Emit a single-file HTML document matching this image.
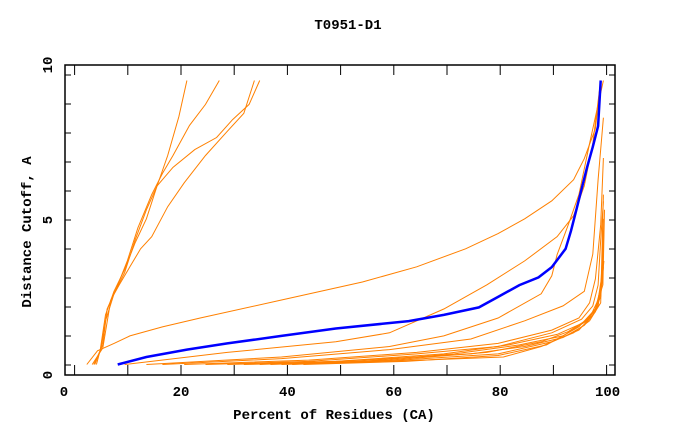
<!DOCTYPE html>
<html><head><meta charset="utf-8"><style>
body{margin:0;background:#fff;}
svg text{font-family:"Liberation Mono","DejaVu Sans Mono",monospace;font-weight:bold;font-size:14px;fill:#000;}
</style></head><body>
<svg id="chart" width="680" height="440" viewBox="0 0 680 440" xmlns="http://www.w3.org/2000/svg">
<text x="348" y="29" text-anchor="middle">T0951-D1</text>
<g id="grid"></g>
<g id="series"></g>
<text x="334" y="419" text-anchor="middle">Percent of Residues (CA)</text>
<text transform="translate(31,232) rotate(-90)" text-anchor="middle">Distance Cutoff, A</text>
</svg>
<script>
const xTicks=[0,20,40,60,80,100];
const yTicks=[0,5,10];
const blueSeries=[[8.1,0.34],[13.5,0.58],[21.1,0.82],[28.7,1.02],[38.9,1.26],[49.1,1.5],[62.8,1.74],[69.4,1.94],[76,2.18],[79.6,2.52],[83.6,2.9],[87.2,3.15],[89.7,3.48],[92.3,4.07],[93.3,4.65],[94.3,5.32],[95.3,6.0],[96.3,6.68],[97.4,7.36],[98.4,8.03],[98.9,9.5]];
const orangeA=[[3.8,0.34],[4.8,0.78],[5.8,1.94],[7.4,2.7],[9.4,3.4],[11.4,4.27],[13.5,5.04],[15.5,6.1],[17.5,7.08],[19.6,8.34],[21.1,9.5]];
const orangeB=[[3.6,0.34],[5.3,0.97],[6.1,2.13],[7.9,2.81],[9.9,3.68],[11.9,4.75],[14.5,5.82],[16.5,6.5],[18.5,7.08],[21.6,8.05],[24.6,8.73],[27.2,9.5]];
const orangeC=[[3.3,0.34],[5.3,0.87],[6.8,2.42],[8.4,2.91],[10.4,3.49],[12.4,4.07],[14.5,4.46],[17.5,5.43],[20.6,6.2],[24.6,7.08],[28.7,7.86],[31.8,8.44],[33.8,9.5]];
const orangeD=[[4.1,0.34],[5.1,0.97],[5.8,1.75],[7.4,2.62],[9.4,3.3],[11.4,4.36],[13.5,5.33],[15.5,6.1],[18.5,6.7],[22.6,7.27],[26.7,7.66],[29.7,8.24],[32.8,8.73],[34.8,9.5]];
const orangeE=[[2.3,0.34],[4.3,0.78],[7.4,1.02],[10.4,1.26],[16.5,1.55],[23.6,1.84],[38.9,2.42],[54.1,3.0],[64.3,3.49],[73.5,4.07],[79.6,4.56],[84.6,5.04],[89.7,5.62],[93.8,6.3],[95.8,6.98],[97.9,7.95],[98.9,9.5]];
const orangeF=[[9.4,0.34],[28.7,0.73],[49.1,1.07],[59.2,1.36],[69.4,2.13],[77.5,2.91],[84.6,3.68],[90.7,4.46],[93.8,5.14],[95.8,6.1],[97.4,7.47],[98.9,9.5]];
const orangeG=[[13.5,0.34],[38.9,0.58],[59.2,0.92],[69.4,1.26],[79.6,1.84],[87.7,2.62],[89.7,3.2],[90.7,3.88],[92.8,4.85],[94.8,5.82],[96.8,7.47],[99.4,9.5]];
const orangeH=[[16.5,0.34],[38.9,0.53],[59.2,0.82],[74.5,1.16],[84.6,1.75],[91.8,2.23],[95.8,2.7],[97.4,3.9],[98.4,6.3],[99.4,8.3]];
const orangeI=[[20.6,0.34],[44,0.48],[64.3,0.73],[79.6,1.02],[89.7,1.45],[94.8,1.84],[96.8,2.33],[97.9,3.1],[98.9,4.85],[99.4,7.0]];
const orangeJ=[[24.6,0.34],[44,0.44],[64.3,0.68],[79.6,0.92],[89.7,1.36],[95.3,1.8],[97.4,2.23],[98.4,2.9],[98.9,4.36],[99.4,5.6]];
const orangeK=[[28.7,0.34],[49.1,0.44],[69.4,0.68],[81.6,0.97],[90.7,1.31],[95.8,1.7],[97.9,2.13],[98.9,2.81],[99.4,4.36]];
const orangeL=[[31.8,0.34],[54.1,0.44],[71.4,0.68],[83.6,0.97],[91.8,1.26],[96.3,1.75],[98.4,2.23],[99.1,3.0],[99.4,5.04]];
const orangeM=[[34.8,0.34],[54.1,0.48],[74.5,0.68],[84.6,0.92],[91.8,1.21],[95.8,1.6],[97.9,2.04],[98.9,2.62],[99.5,3.68]];
const orangeN=[[36.8,0.34],[59.2,0.48],[77.5,0.73],[87.7,1.07],[92.8,1.4],[96.8,1.84],[98.4,2.42],[99.2,3.3],[99.5,4.65]];
const orangeO=[[38.9,0.34],[59.2,0.44],[80.6,0.58],[87.7,0.92],[94.8,1.45],[97.4,1.94],[98.9,2.52],[99.4,3.49]];
const orangeP=[[40.9,0.34],[61.3,0.48],[79.6,0.68],[89.7,1.07],[93.8,1.36],[96.8,1.75],[98.9,2.33],[99.4,5.82]];
const orangeQ=[[43,0.34],[62.3,0.44],[79.6,0.63],[88.7,0.97],[94.8,1.55],[97.9,2.13],[99.3,2.91],[99.6,5.33]];
const orangeSeries=[orangeA,orangeB,orangeC,orangeD,orangeE,orangeF,orangeG,orangeH,orangeI,orangeJ,orangeK,orangeL,orangeM,orangeN,orangeO,orangeP,orangeQ];

const L=65,R=615,T=65,B=375;
const sx=v=>74.6+v*5.32;
const sy=v=>375-v*31;
const NS="http://www.w3.org/2000/svg";
const grid=document.getElementById('grid'),ser=document.getElementById('series');
function mk(tag,attrs,parent){const e=document.createElementNS(NS,tag);for(const k in attrs)e.setAttribute(k,attrs[k]);parent.appendChild(e);return e;}
const fr=mk('rect',{x:L,y:T,width:R-L,height:B-T,fill:'none',stroke:'#000','stroke-width':1.5},grid);


for(let v=0;v<=100;v+=10){
  const t1=mk('line',{x1:sx(v),x2:sx(v),y1:B,y2:B-10,stroke:'#000'},grid);
  
  
  const t2=mk('line',{x1:sx(v),x2:sx(v),y1:T,y2:T+10,stroke:'#000'},grid);
  
  
}
for(let k=-5;k<=5;k++){
  const v=5+k*29/31;
  const t1=mk('line',{x1:L,x2:L+6,y1:sy(v),y2:sy(v),stroke:'#000'},grid);
  
  
  const t2=mk('line',{x1:R,x2:R-6,y1:sy(v),y2:sy(v),stroke:'#000'},grid);
  
  
}
xTicks.forEach(v=>{
  const t=mk('text',{x:v===0?64:sx(v)+(v===100?1:0),y:396,'text-anchor':'middle'},grid);t.textContent=v;
  
  
});
yTicks.forEach(v=>{
  const t=mk('text',{transform:`translate(52,${sy(v)}) rotate(-90)`,'text-anchor':'middle'},grid);t.textContent=v;
  
  
});
const pts=d=>d.map(p=>sx(p[0]).toFixed(1)+','+sy(p[1]).toFixed(1)).join(' ');
orangeSeries.forEach(d=>{
  const l=mk('polyline',{points:pts(d),fill:'none',stroke:'#ff8000','stroke-width':1},ser);
  
  
});
const bl=mk('polyline',{points:pts(blueSeries),fill:'none',stroke:'#0000ff','stroke-width':2.5},ser);


</script>
</body></html>
